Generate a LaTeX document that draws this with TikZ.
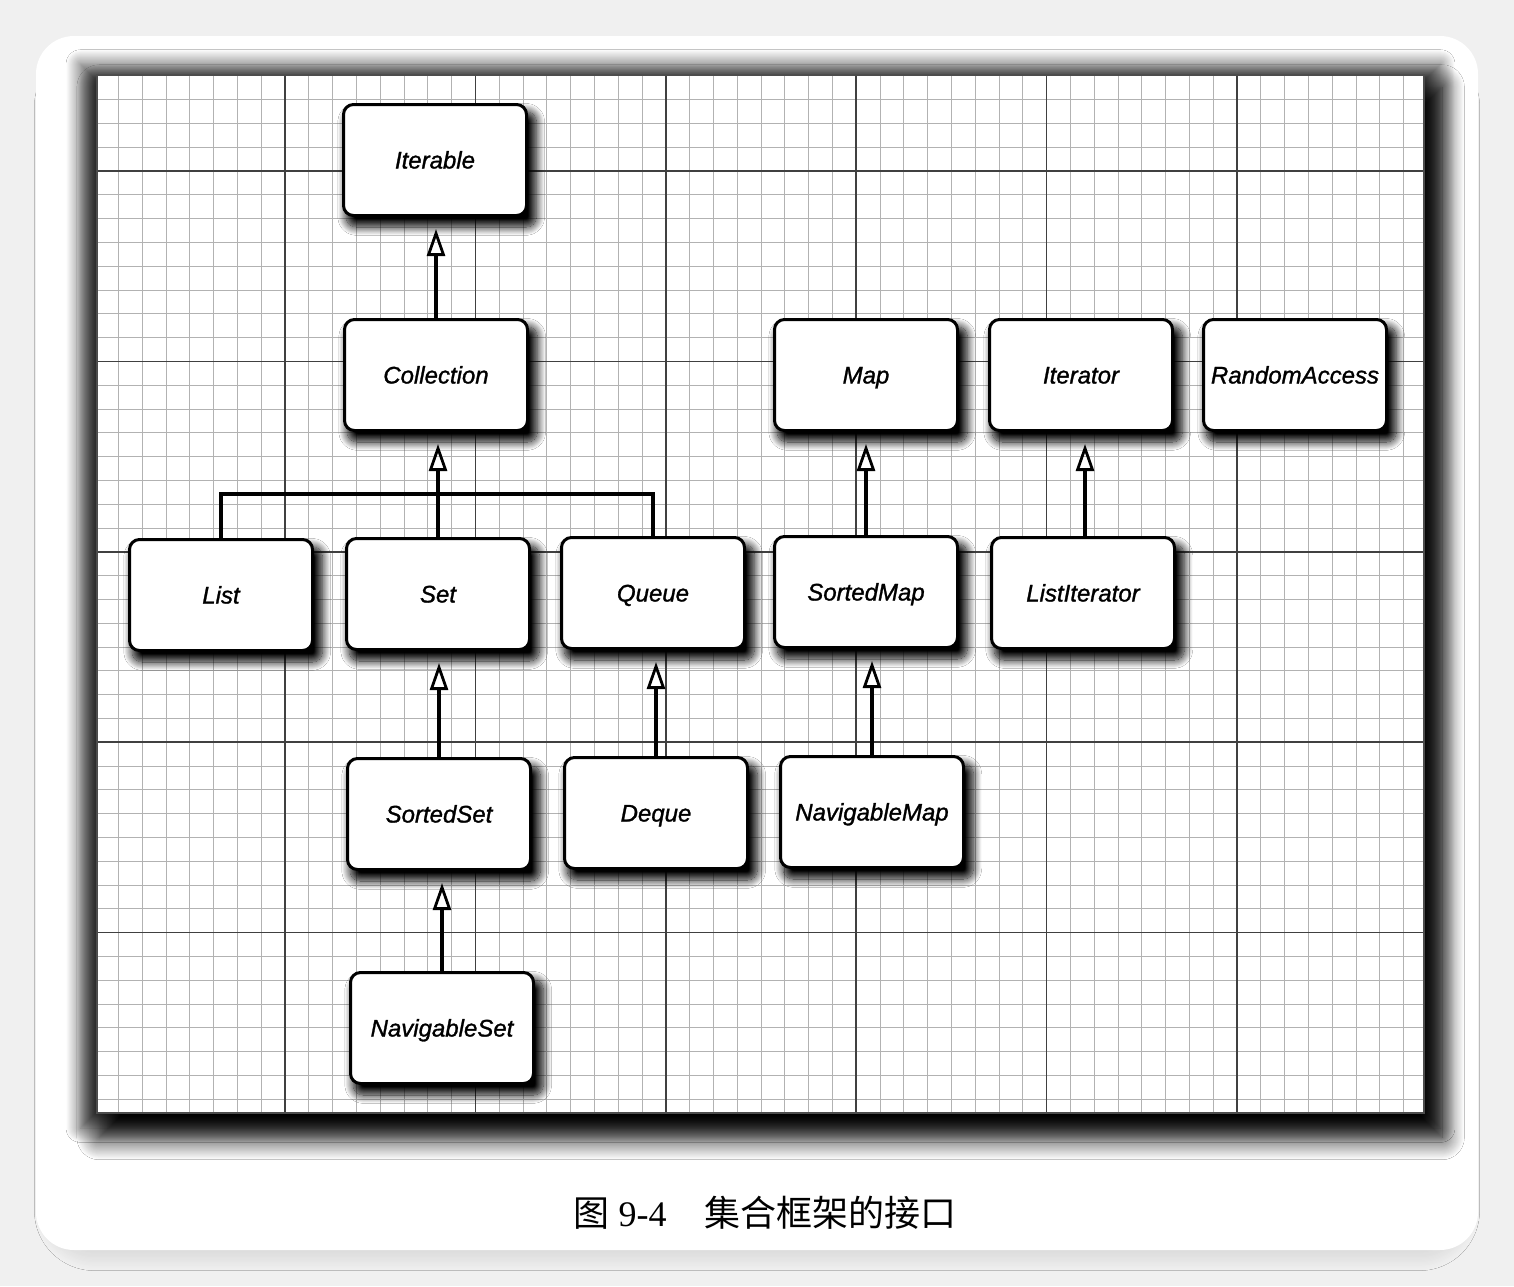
\documentclass[tikz,border=0pt]{standalone}
\usepackage{fontspec}
\setmainfont{Liberation Sans}
\newfontfamily\boxfont[FakeBold=1.2]{Liberation Sans}
\newfontfamily\cjk{Noto Sans CJK SC}
\newfontfamily\serifdigits{Liberation Serif}
\usetikzlibrary{arrows.meta,shadows.blur}
\begin{document}
\begin{tikzpicture}[x=1pt,y=-1pt,
  box/.style={draw, line width=3pt, rounded corners=10pt, fill=white,
    minimum width=183pt, minimum height=111pt, inner sep=0pt,
    text height=17pt, text depth=0pt,
    font=\boxfont\itshape\fontsize{24}{28}\selectfont,
    blur shadow={shadow xshift=6pt, shadow yshift=-9pt, shadow scale=1.04, shadow blur radius=8pt, shadow blur steps=16, shadow opacity=100}},
  inh/.style={line width=3.2pt, -{Triangle[open, length=27pt, width=18pt, line width=2.8pt]}, shorten >=12pt},
  link/.style={line width=3.2pt},
  minorline/.style={gray!60, line width=1pt},
  majorline/.style={black!75, line width=1.6pt}]
\useasboundingbox (0,0) rectangle (1514,1286);
% page background and card
\fill[gray!12] (0,0) rectangle (1514,1286);
\fill[white, rounded corners=38pt,
  blur shadow={shadow xshift=0pt, shadow yshift=-16pt, shadow scale=0.97, shadow blur radius=24pt, shadow blur steps=20, shadow opacity=20}]
  (36,36) rectangle (1478,1250);
% grid paper shadows
\path[blur shadow={shadow xshift=0pt, shadow yshift=-2pt, shadow scale=1.025, shadow blur radius=14pt, shadow blur steps=20, shadow opacity=70}]
  (97,75) rectangle (1424,1113);
\fill[white, blur shadow={shadow xshift=10pt, shadow yshift=-18pt, shadow scale=1.012, shadow blur radius=22pt, shadow blur steps=24, shadow opacity=100}]
  (97,75) rectangle (1424,1113);
% grid lines
\foreach \k in {1,...,55} {
  \pgfmathsetmacro\xx{94.6+23.8*\k}
  \draw[minorline] (\xx,75) -- (\xx,1113);
}
\foreach \k in {1,...,43} {
  \pgfmathsetmacro\yy{75.8+23.8*\k}
  \draw[minorline] (97,\yy) -- (1424,\yy);
}
\foreach \k in {1,...,6} {
  \pgfmathsetmacro\xx{94.6+190.4*\k}
  \draw[majorline] (\xx,75) -- (\xx,1113);
}
\foreach \k in {0,...,4} {
  \pgfmathsetmacro\yy{171+190.4*\k}
  \draw[majorline] (97,\yy) -- (1424,\yy);
}
\draw[black!70, line width=1.4pt] (97,75) rectangle (1424,1113);
% boxes
\node[box] (Iterable) at (435,160) {Iterable};
\node[box] (Collection) at (436,375) {Collection};
\node[box] (Map) at (866,375) {Map};
\node[box] (Iterator) at (1081,375) {Iterator};
\node[box] (RandomAccess) at (1295,375) {RandomAccess};
\node[box] (List) at (221,595) {List};
\node[box] (Set) at (438,594) {Set};
\node[box] (Queue) at (653,593) {Queue};
\node[box] (SortedMap) at (866,592) {SortedMap};
\node[box] (ListIterator) at (1083,593) {ListIterator};
\node[box] (SortedSet) at (439,814) {SortedSet};
\node[box] (Deque) at (656,813) {Deque};
\node[box] (NavigableMap) at (872,812) {NavigableMap};
\node[box] (NavigableSet) at (442,1028) {NavigableSet};
% connectors
\coordinate (bar) at (437,494);
\draw[inh] (Collection.north) -- (Collection.north |- Iterable.south);
\draw[inh] (Set.north) -- (Set.north |- Collection.south);
\draw[link] (List.north) |- (bar) -| (Queue.north);
\draw[inh] (SortedMap.north) -- (SortedMap.north |- Map.south);
\draw[inh] ([xshift=2pt]ListIterator.north) -- ([xshift=2pt]ListIterator.north |- Iterator.south);
\draw[inh] (SortedSet.north) -- (SortedSet.north |- Set.south);
\draw[inh] (Deque.north) -- (Deque.north |- Queue.south);
\draw[inh] (NavigableMap.north) -- (NavigableMap.north |- SortedMap.south);
\draw[inh] (NavigableSet.north) -- (NavigableSet.north |- SortedSet.south);
% caption
\node[anchor=center, inner sep=0pt] (caption) at (765,1213)
  {\fontsize{36}{40}\selectfont{\cjk 图}\hspace{9pt}{\serifdigits 9-4}\hspace{38pt}{\cjk 集合框架的接口}};
\end{tikzpicture}
\end{document}
